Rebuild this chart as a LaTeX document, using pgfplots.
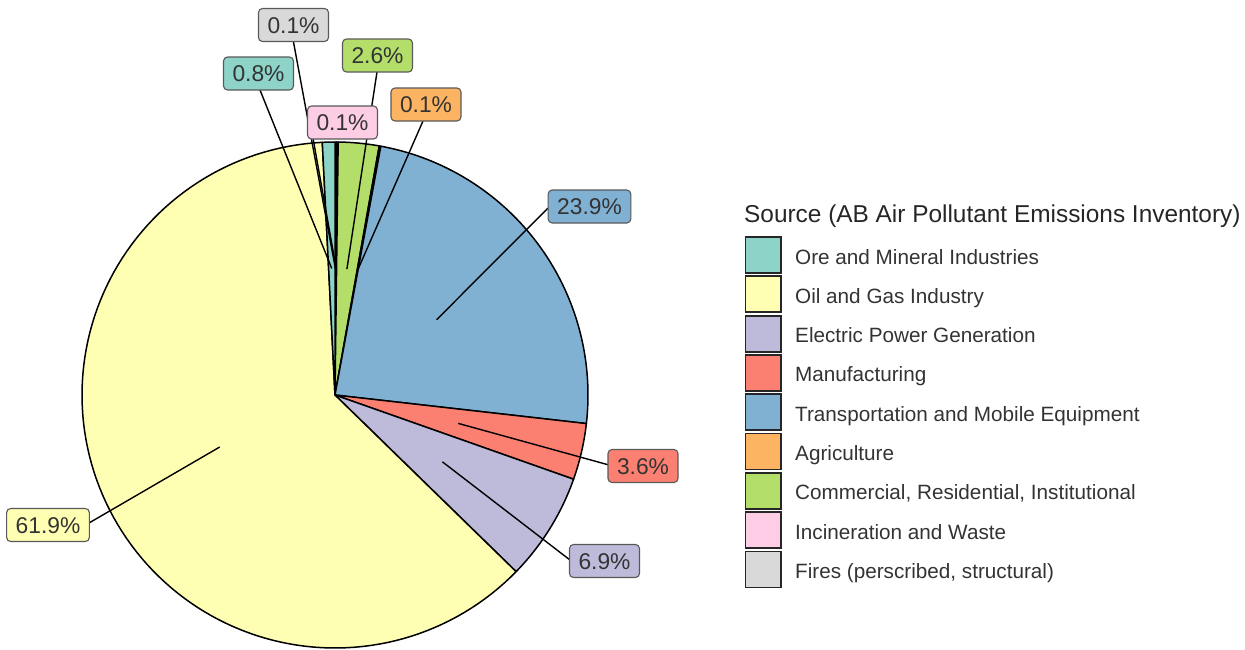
\documentclass[border=0pt]{standalone}
\usepackage{fontspec}
\setmainfont{Liberation Sans}
\usepackage{pgfplots}
\pgfplotsset{compat=1.18}

% Set3 colours
\definecolor{cOre}{HTML}{8DD3C7}
\definecolor{cOil}{HTML}{FFFFB3}
\definecolor{cElec}{HTML}{BEBADA}
\definecolor{cManu}{HTML}{FB8072}
\definecolor{cTrans}{HTML}{80B1D3}
\definecolor{cAgri}{HTML}{FDB462}
\definecolor{cComm}{HTML}{B3DE69}
\definecolor{cInc}{HTML}{FCCDE5}
\definecolor{cFire}{HTML}{D9D9D9}

\tikzset{
  pieslice/.style={draw=black, line width=1.5bp, line join=round},
  leader/.style={draw=black, line width=1.4bp},
  lab/.style={draw=black!65, line width=1.1bp, rounded corners=4bp,
    text=black!80, font=\fontsize{22.8bp}{26bp}\selectfont,
    inner xsep=9bp, inner ysep=0bp, text height=16.3bp, text depth=0bp,
    minimum height=33bp},
  legtxt/.style={anchor=base west, inner sep=0pt, text=black!80,
    font=\fontsize{20.7bp}{24bp}\selectfont},
}

% pie geometry (pixel coordinates, y downwards)
\def\pieCX{335}
\def\pieCY{395}
\def\pieR{253}

\def\piecum{0}
\newcommand\pieslice[2]{% #1 = percent, #2 = colour
  \pgfmathsetmacro\pieA{\piecum*3.6}%
  \pgfmathsetmacro\pieB{(\piecum+#1)*3.6}%
  \edef\pietmp{\noexpand\addplot[pieslice,samples=120,fill=#2,domain=\pieA:\pieB]}%
  \pietmp ({\pieCX+\pieR*sin(x)},{\pieCY-\pieR*cos(x)}) -- (axis cs:\pieCX,\pieCY) -- cycle;%
  \pgfmathsetmacro\piecumnew{\piecum+#1}%
  \xdef\piecum{\piecumnew}%
}
\newcommand\legsq[2]{% #1 = row centre y, #2 = colour
  \addplot[draw=black!85, line width=1.8bp, fill=#2] coordinates
    {(745.5,#1-18) (781.2,#1-18) (781.2,#1+18) (745.5,#1+18)} -- cycle;%
}

\begin{document}
\begin{tikzpicture}
\begin{axis}[
  hide axis, scale only axis,
  width=1245bp, height=650bp,
  xmin=0, xmax=1245, ymin=0, ymax=650, y dir=reverse,
  clip=false,
]
% slices, clockwise from 12 o'clock (stacking order)
\pieslice{0.1}{cFire}
\pieslice{0.1}{cInc}
\pieslice{2.6}{cComm}
\pieslice{0.1}{cAgri}
\pieslice{23.9}{cTrans}
\pieslice{3.6}{cManu}
\pieslice{6.9}{cElec}
\pieslice{61.9}{cOil}
\pieslice{0.8}{cOre}

% leader lines
\addplot[leader] coordinates {(335.4,268.5) (293.5,42)};
\addplot[leader] coordinates {(331.8,268.5) (260,90)};
\addplot[leader] coordinates {(336.2,268.5) (313,138)};
\addplot[leader] coordinates {(346.9,269.1) (377,72)};
\addplot[leader] coordinates {(357.5,270.5) (423,121)};
\addplot[leader] coordinates {(436.6,319.7) (548,208)};
\addplot[leader] coordinates {(458.3,423.4) (609,465)};
\addplot[leader] coordinates {(442.4,461.8) (570,560)};
\addplot[leader] coordinates {(219.7,447) (89,523)};

% labels
\node[lab, fill=cFire]  at (axis cs:293.5,25)   {0.1\%};
\node[lab, fill=cOre]   at (axis cs:258.5,73.5) {0.8\%};
\node[lab, fill=cComm]  at (axis cs:377.5,55.5) {2.6\%};
\node[lab, fill=cInc]   at (axis cs:342.5,122.5){0.1\%};
\node[lab, fill=cAgri]  at (axis cs:426,104.5)  {0.1\%};
\node[lab, fill=cTrans] at (axis cs:589.5,206.5){23.9\%};
\node[lab, fill=cManu]  at (axis cs:643,466)    {3.6\%};
\node[lab, fill=cElec]  at (axis cs:604.5,561)  {6.9\%};
\node[lab, fill=cOil]   at (axis cs:48,525)     {61.9\%};

% legend
\node[anchor=base west, inner sep=0pt, text=black!85,
  font=\fontsize{24.4bp}{28bp}\selectfont] at (axis cs:744,222)
  {Source (AB Air Pollutant Emissions Inventory)};
\legsq{255}{cOre}
\legsq{294.3}{cOil}
\legsq{333.6}{cElec}
\legsq{372.9}{cManu}
\legsq{412.2}{cTrans}
\legsq{451.5}{cAgri}
\legsq{490.8}{cComm}
\legsq{530.1}{cInc}
\legsq{569.4}{cFire}
\node[legtxt] at (axis cs:795,264)   {Ore and Mineral Industries};
\node[legtxt] at (axis cs:795,303.3) {Oil and Gas Industry};
\node[legtxt] at (axis cs:795,342.6) {Electric Power Generation};
\node[legtxt] at (axis cs:795,381.9) {Manufacturing};
\node[legtxt] at (axis cs:795,421.2) {Transportation and Mobile Equipment};
\node[legtxt] at (axis cs:795,460.5) {Agriculture};
\node[legtxt] at (axis cs:795,499.8) {Commercial, Residential, Institutional};
\node[legtxt] at (axis cs:795,539.1) {Incineration and Waste};
\node[legtxt] at (axis cs:795,578.4) {Fires (perscribed, structural)};
\end{axis}
\path (0,0) rectangle (1245bp,650bp);
\end{tikzpicture}
\end{document}
